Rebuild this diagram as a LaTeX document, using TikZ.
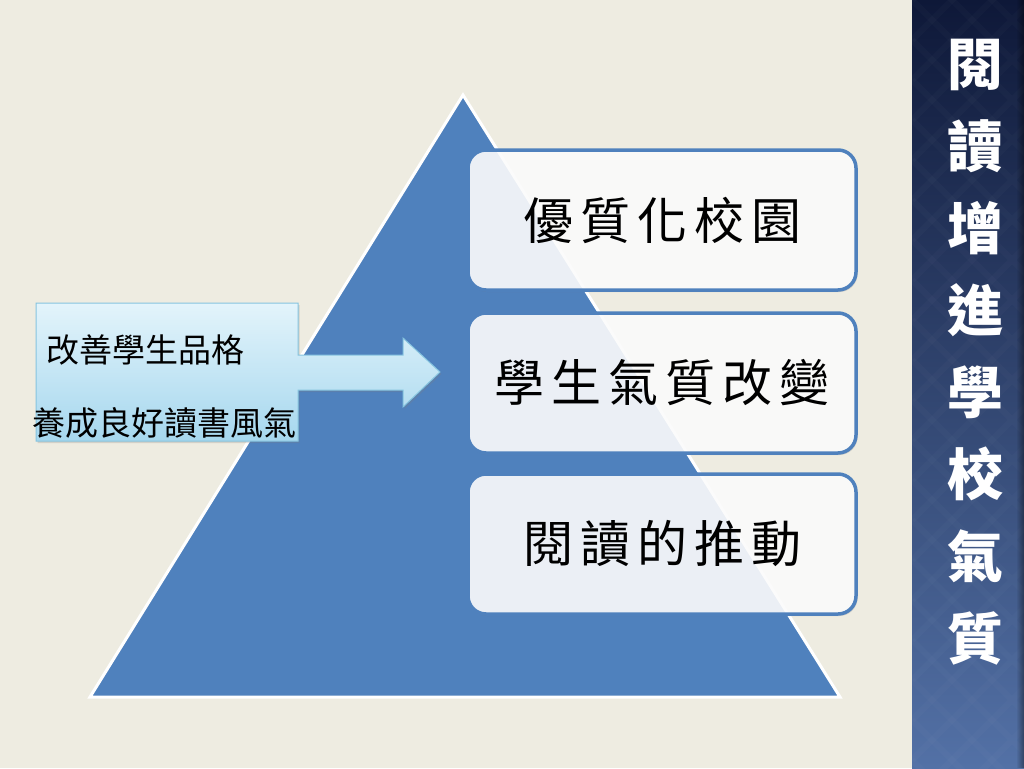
\documentclass[tikz,border=0pt]{standalone}
\usepackage{fontspec}
\newfontfamily\cjk{Noto Sans CJK TC}
\newfontfamily\cjkbox[LetterSpace=14]{Noto Sans CJK TC}
\usetikzlibrary{shadows}
\definecolor{bg}{HTML}{EEECE1}
\definecolor{tri}{HTML}{4F81BD}
\definecolor{sidetop}{HTML}{0E1838}
\definecolor{sidemid}{HTML}{3A5386}
\definecolor{sidebot}{HTML}{5371A6}
\definecolor{calltop}{HTML}{E3F4FB}
\definecolor{callmid}{HTML}{BCE3F4}
\definecolor{callbot}{HTML}{A6D7EE}
\definecolor{callline}{HTML}{86C4DF}
\begin{document}
\begin{tikzpicture}[x=1pt,y=-1pt,
  levelbox/.style={draw=tri, line width=3.5pt, rounded corners=18pt,
    fill=white, fill opacity=0.88, text opacity=1, text=black,
    minimum width=388pt, minimum height=140pt, inner sep=0pt,
    font=\cjkbox\fontsize{50}{56}\selectfont,
    drop shadow={opacity=0.25, shadow xshift=1.5pt, shadow yshift=-2pt}},
  calltext/.style={anchor=west, inner sep=0pt, text=black,
    font=\cjk\fontsize{33}{36}\selectfont},
  sidetext/.style={text=white, align=center, inner sep=0pt,
    font=\cjk\bfseries\fontsize{56}{82}\selectfont}]
\useasboundingbox (0,0) rectangle (1024,768);
\fill[bg] (0,0) rectangle (1024,768);

% sidebar
\shade[top color=sidetop, middle color=sidemid, bottom color=sidebot]
  (912,0) rectangle (1024,768);
\begin{scope}
  \clip (912,0) rectangle (1024,768);
  \foreach \k in {-800,-760,...,1200}
    \draw[white, opacity=0.018, line width=6pt] (912,\k) -- (1112,\k+200)
      (912,\k+200) -- (1112,\k);
  \foreach \i in {0,...,7}
    \fill[black, opacity=0.05*\i] (1016+\i,0) rectangle (1017+\i,768);
\end{scope}
\node[sidetext] (side) at (975,352) {閱\\讀\\增\\進\\學\\校\\氣\\質};

% pyramid
\draw[white, line width=3pt, fill=tri, line join=miter]
  (463,95) -- (840,697) -- (90,697) -- cycle;

% level boxes
\node[levelbox] (top) at (662,220) {優質化校園};
\node[levelbox] (mid) at (662,383) {學生氣質改變};
\node[levelbox] (bot) at (662,544) {閱讀的推動};

% arrow callout
\draw[draw=callline, line width=1pt, line join=miter,
  top color=calltop, middle color=callmid, bottom color=callbot,
  drop shadow={opacity=0.25, shadow xshift=1.5pt, shadow yshift=-2pt}]
  (36,303) -- (298,303) -- (298,355) -- (403,355) -- (403,338)
  -- (440,372) -- (403,407) -- (403,390) -- (298,390) -- (298,441)
  -- (36,441) -- cycle;
\node[calltext] (c1) at (46,350) {改善學生品格};
\node[calltext] (c2) at (32,423) {養成良好讀書風氣};
\end{tikzpicture}
\end{document}
